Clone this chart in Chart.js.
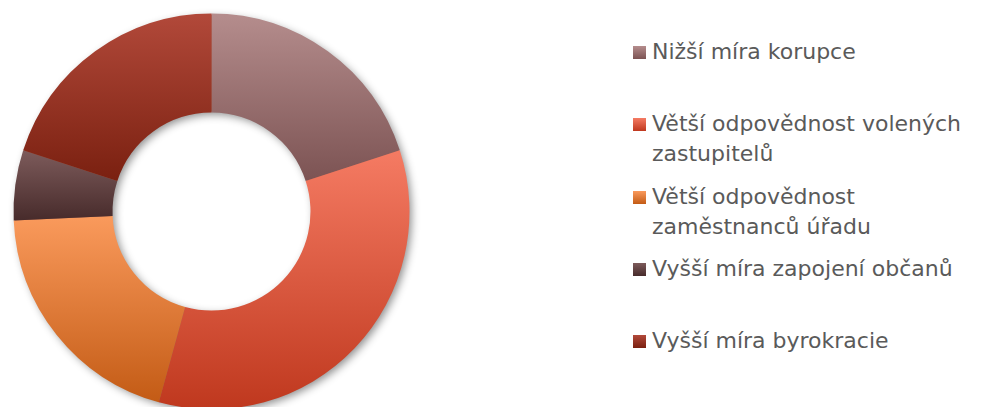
<!DOCTYPE html>
<html lang="cs">
<head>
<meta charset="utf-8">
<script src="https://cdn.jsdelivr.net/npm/chart.js@4/dist/chart.umd.min.js"></script>
<style>
  html, body { margin: 0; padding: 0; background: #fff; overflow: hidden; }
  body { width: 985px; height: 407px; position: relative; }
  #chart-box { position: absolute; left: 0; top: 0; width: 423px; height: 423px; }
  #legend { position: absolute; left: 633px; top: 37px; font-family: "DejaVu Sans", sans-serif; font-size: 22px; color: #5a5a5a; }
  .item { height: 72.3px; position: relative; padding-left: 19px; line-height: 30px; white-space: nowrap; }
  .swatch { position: absolute; left: 0; top: 9px; width: 13px; height: 13px; }
</style>
</head>
<body>
<div id="chart-box"><canvas id="chart"></canvas></div>
<div id="legend"></div>
<script>
'use strict';

// ***** DATA *****
let categories = [
  'Nižší míra korupce',
  ['Větší odpovědnost volených', 'zastupitelů'],
  ['Větší odpovědnost', 'zaměstnanců úřadu'],
  'Vyšší míra zapojení občanů',
  'Vyšší míra byrokracie'
];
let values = [7, 12, 7, 2, 7];

// top / bottom shade of every slice (vertical gradient)
let topColors = ['#b58d8d', '#f57b63', '#fa9a5c', '#7d5b5b', '#b2493a'];
let bottomColors = ['#7c5353', '#bf381e', '#c35b15', '#472b2b', '#7a2010'];

let canvasElem = document.getElementById('chart');
let legendElem = document.getElementById('legend');

// ***** PLUGINS *****
// soft shadow under the whole ring
let ringShadow = {
  id: 'ringShadow',
  beforeDatasetsDraw(chart) {
    let arcs = chart.getDatasetMeta(0).data;
    if (!arcs.length) return;
    let a = arcs[0];
    let ctx = chart.ctx;
    ctx.save();
    ctx.shadowColor = 'rgba(0,0,0,0.45)';
    ctx.shadowBlur = 9;
    ctx.shadowOffsetX = 3;
    ctx.shadowOffsetY = 3;
    ctx.fillStyle = '#a06050';
    ctx.beginPath();
    ctx.arc(a.x, a.y, a.outerRadius - 1, 0, Math.PI * 2);
    ctx.arc(a.x, a.y, a.innerRadius + 1, 0, Math.PI * 2, true);
    ctx.fill();
    ctx.restore();
  }
};

// give each slice its own top-to-bottom gradient
let sliceGradients = {
  id: 'sliceGradients',
  afterUpdate(chart) {
    let ctx = chart.ctx;
    chart.getDatasetMeta(0).data.forEach((arc, i) => {
      let yMin = Infinity, yMax = -Infinity;
      for (let s = 0; s <= 60; s++) {
        let ang = arc.startAngle + (arc.endAngle - arc.startAngle) * s / 60;
        [arc.innerRadius, arc.outerRadius].forEach(r => {
          let y = arc.y + r * Math.sin(ang);
          if (y < yMin) yMin = y;
          if (y > yMax) yMax = y;
        });
      }
      let g = ctx.createLinearGradient(0, yMin, 0, yMax);
      g.addColorStop(0, topColors[i]);
      g.addColorStop(1, bottomColors[i]);
      arc.options = Object.assign({}, arc.options, { backgroundColor: g });
    });
  }
};

// ***** CHART *****
new Chart(canvasElem, {
  type: 'doughnut',
  data: {
    labels: categories,
    datasets: [{
      data: values,
      backgroundColor: topColors,
      borderWidth: 0
    }]
  },
  options: {
    responsive: true,
    maintainAspectRatio: false,
    animation: false,
    cutout: '50%',
    layout: { padding: 13.5 },
    plugins: {
      legend: { display: false },
      tooltip: { enabled: false }
    }
  },
  plugins: [ringShadow, sliceGradients]
});

// ***** LEGEND *****
categories.forEach((label, i) => {
  let item = document.createElement('div');
  item.className = 'item';
  let sw = document.createElement('span');
  sw.className = 'swatch';
  sw.style.background = `linear-gradient(${topColors[i]}, ${bottomColors[i]})`;
  item.appendChild(sw);
  let lines = Array.isArray(label) ? label : [label];
  lines.forEach((line, j) => {
    if (j) item.appendChild(document.createElement('br'));
    item.appendChild(document.createTextNode(line));
  });
  legendElem.appendChild(item);
});
</script>
</body>
</html>
